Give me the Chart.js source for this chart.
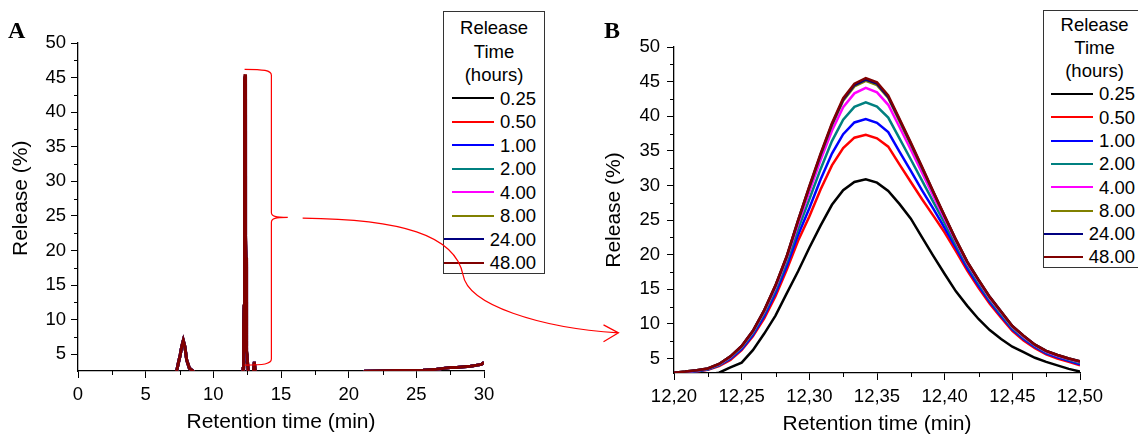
<!DOCTYPE html>
<html>
<head>
<meta charset="utf-8">
<script src="https://cdn.jsdelivr.net/npm/chart.js@4.4.0/dist/chart.umd.min.js"></script>
<style>
  body { margin: 0; background: #fff; }
  #page { position: relative; width: 1138px; height: 435px; overflow: hidden; background: #fff; }
  canvas { position: absolute; top: 0; }
  #chartA { left: 0; z-index: 1; }
  #chartB { left: 560px; z-index: 1; }
  #overlay { left: 0; z-index: 3; pointer-events: none; }
  .panel { position: absolute; top: 18px; font: bold 24px "Liberation Serif", "Times New Roman", serif; line-height: 24px; z-index: 2; }
  .legend { position: absolute; box-sizing: border-box; border: 1px solid #333; background: #fff; z-index: 2;
            font: 18.5px "Liberation Sans", Arial, sans-serif; color: #000; }
  .legend .ttl { text-align: center; }
  .legend .row { display: flex; justify-content: flex-end; align-items: center; }
  .legend .sw { width: 42px; height: 0; border-top: 2px solid; margin-right: 6px; }
  #legA { left: 443px; top: 11px; width: 102px; height: 263px; padding-top: 4px; line-height: 23.5px; }
  #legA .row { padding-right: 8px; }
  #legB { left: 1043px; top: 9.5px; width: 103px; height: 258px; padding-top: 2px; line-height: 23.3px; }
  #legB .row { padding-right: 10px; }
</style>
</head>
<body>
<div id="page">
  <canvas id="chartA" width="560" height="435"></canvas>
  <canvas id="chartB" width="578" height="435"></canvas>
  <div class="panel" style="left:8px">A</div>
  <div class="panel" style="left:604px">B</div>
  <div class="legend" id="legA"></div>
  <div class="legend" id="legB"></div>
  <canvas id="overlay" width="1138" height="435"></canvas>
</div>
<script>
// release time of each curve (hours) and its colour
const seriesLabels = ['0.25', '0.50', '1.00', '2.00', '4.00', '8.00', '24.00', '48.00'];
const seriesColors = ['#000000', '#ff0000', '#0000ff', '#008080', '#ff00ff', '#808000', '#000080', '#800000'];
const legendTitle = ['Release', 'Time', '(hours)'];

// panel B: main peak, retention time (min)
const retentionB = [12.2000, 12.2083, 12.2167, 12.2250, 12.2333, 12.2417, 12.2500, 12.2583, 12.2667, 12.2750,
  12.2833, 12.2917, 12.3000, 12.3083, 12.3167, 12.3250, 12.3333, 12.3417, 12.3500, 12.3583,
  12.3667, 12.3750, 12.3833, 12.3917, 12.4000, 12.4083, 12.4167, 12.4250, 12.4333, 12.4417,
  12.4500, 12.4583, 12.4667, 12.4750, 12.4833, 12.4917, 12.5000];

// release (%) for each release time
const rel025 = [2.4, 2.5, 2.6, 2.7, 2.95, 3.7, 4.4, 6.2, 8.6, 11.2, 14.4, 17.6, 21.0, 24.2, 27.2, 29.3, 30.5, 30.9, 30.4, 29.2,
  27.3, 25.2, 22.5, 19.8, 17.2, 14.7, 12.6, 10.7, 9.1, 7.8, 6.7, 5.9, 5.1, 4.5, 4.0, 3.5, 3.1];
const rel050 = [2.85, 2.95, 3.1, 3.35, 3.9, 4.8, 6.2, 8.2, 10.8, 14.0, 17.8, 22.0, 25.5, 29.4, 32.9, 35.4, 36.9, 37.3, 36.8, 35.6,
  33.0, 30.5, 28.0, 25.6, 23.2, 20.5, 17.7, 15.2, 12.9, 10.9, 9.0, 7.6, 6.5, 5.6, 5.0, 4.5, 4.0];
const rel100 = [2.9, 3.0, 3.15, 3.4, 4.0, 4.95, 6.35, 8.4, 11.15, 14.45, 18.35, 22.85, 26.7, 30.85, 34.6, 37.4, 39.1, 39.6, 39.05, 37.7,
  34.85, 32.1, 29.3, 26.6, 23.85, 21.0, 18.05, 15.55, 13.2, 11.15, 9.2, 7.8, 6.65, 5.75, 5.15, 4.65, 4.15];
const rel200 = [2.9, 3.05, 3.2, 3.45, 4.05, 5.1, 6.55, 8.65, 11.5, 14.9, 18.95, 23.7, 28.0, 32.35, 36.4, 39.5, 41.35, 42.0, 41.4, 39.8,
  36.75, 33.75, 30.7, 27.6, 24.55, 21.45, 18.45, 15.9, 13.45, 11.4, 9.4, 8.0, 6.8, 5.9, 5.3, 4.8, 4.35];
const rel400 = [2.95, 3.05, 3.25, 3.5, 4.15, 5.2, 6.7, 8.85, 11.8, 15.3, 19.45, 24.45, 29.1, 33.65, 37.9, 41.3, 43.3, 44.1, 43.45, 41.65,
  38.4, 35.15, 31.85, 28.45, 25.15, 21.9, 18.75, 16.2, 13.7, 11.65, 9.55, 8.15, 6.9, 6.0, 5.4, 4.9, 4.5];
const rel800 = [2.95, 3.1, 3.3, 3.55, 4.2, 5.3, 6.75, 8.95, 11.95, 15.5, 19.7, 24.85, 29.7, 34.35, 38.7, 42.25, 44.3, 45.1, 44.5, 42.65,
  39.25, 35.9, 32.45, 28.95, 25.5, 22.1, 18.95, 16.35, 13.85, 11.75, 9.65, 8.25, 7.0, 6.1, 5.5, 5.0, 4.55];
const rel2400 = [2.95, 3.1, 3.3, 3.55, 4.2, 5.3, 6.8, 9.0, 12.0, 15.55, 19.75, 24.95, 29.8, 34.45, 38.85, 42.4, 44.5, 45.3, 44.7, 42.8,
  39.45, 36.05, 32.6, 29.0, 25.55, 22.15, 18.95, 16.35, 13.9, 11.8, 9.7, 8.3, 7.0, 6.1, 5.5, 5.0, 4.6];
const rel4800 = [2.95, 3.1, 3.3, 3.55, 4.2, 5.3, 6.8, 9.0, 12.0, 15.6, 19.8, 25.0, 29.9, 34.6, 39.0, 42.6, 44.7, 45.5, 44.9, 43.0,
  39.6, 36.2, 32.7, 29.1, 25.6, 22.2, 19.0, 16.4, 13.9, 11.8, 9.7, 8.3, 7.0, 6.1, 5.5, 5.0, 4.6];
const releaseB = [rel025, rel050, rel100, rel200, rel400, rel800, rel2400, rel4800];

// panel A: rest of the chromatogram (shared by all curves)
const earlyTime = [0, 7.0, 7.29, 7.41, 7.55, 7.66, 7.78, 7.9, 8.03, 8.23, 8.5, 9.0, 12.0, 12.19];
const earlyRelease = [1.5, 1.5, 2.6, 3.7, 4.9, 6.1, 7.0, 6.1, 4.2, 3.0, 2.6, 1.5, 1.5, 2.0];
const lateTime = [12.6, 12.95, 13.03, 13.11, 13.3, 21.0, 21.2, 22.5, 23.5, 24.5, 25.5, 26.5, 27.0, 27.5, 28.0, 28.5, 29.0, 29.5, 29.8, 30.0];
const lateRelease = [2.2, 2.3, 3.9, 2.3, 2.0, 2.0, 2.55, 2.62, 2.66, 2.68, 2.72, 2.85, 2.98, 3.1, 3.1, 3.2, 3.3, 3.45, 3.55, 3.85];

// red zoom annotation anchors (panel A units, then panel B units for the arrow head)
const braceTime = [12.31, 14.29, 15.5];
const braceRelease = [46.2, 24.8, 3.45];
const arrowStart = [16.6, 24.7];
const arrowBend = [28.45, 16.5];
const arrowEnd = [12.159, 8.7];

Chart.defaults.font.family = '"Liberation Sans", Arial, sans-serif';
Chart.defaults.color = '#000';

const pts = (xs, ys) => xs.map((x, i) => ({ x: x, y: ys[i] }));

const minorTicks = {
  id: 'minorTicks',
  afterDraw(chart) {
    const ctx = chart.ctx;
    ctx.save();
    ctx.strokeStyle = '#000';
    ctx.lineWidth = 1;
    ['x', 'y'].forEach(id => {
      const s = chart.scales[id];
      const vals = s.ticks.map(t => t.value);
      for (let i = 0; i < vals.length - 1; i++) {
        const p = Math.round(s.getPixelForValue((vals[i] + vals[i + 1]) / 2)) + 0.5;
        ctx.beginPath();
        if (id === 'x') { ctx.moveTo(p, s.top); ctx.lineTo(p, s.top + 4); }
        else { ctx.moveTo(s.right, p); ctx.lineTo(s.right - 4, p); }
        ctx.stroke();
      }
    });
    ctx.restore();
  }
};

function makeOptions(o) {
  return {
    responsive: false,
    animation: false,
    events: [],
    layout: { padding: { left: 0, right: o.padRight, top: o.padTop, bottom: 0 } },
    plugins: { legend: { display: false }, tooltip: { enabled: false } },
    elements: { point: { radius: 0 }, line: { tension: 0 } },
    scales: {
      x: {
        type: 'linear', min: o.xMin, max: o.xMax,
        afterFit: s => { s.height = o.xHeight; },
        ticks: { stepSize: o.xStep, autoSkip: false, maxRotation: 0, padding: 6,
                 font: { size: 18.5 }, color: '#000', callback: o.xFmt },
        grid: { drawOnChartArea: false, drawTicks: true, tickLength: 7, tickColor: '#000', color: '#000' },
        border: { display: true, color: '#000', width: 1.3 },
        title: { display: true, text: 'Retention time (min)', font: { size: 21 }, color: '#000',
                 padding: { top: 0, bottom: o.xTitlePad } }
      },
      y: {
        type: 'linear', min: o.yMin, max: 50,
        afterFit: s => { s.width = o.yWidth; },
        ticks: { stepSize: 5, includeBounds: false, padding: o.yTickPad, font: { size: 18.5 }, color: '#000' },
        grid: { drawOnChartArea: false, drawTicks: true, tickLength: 7, tickColor: '#000', color: '#000' },
        border: { display: true, color: '#000', width: 1.3 },
        title: { display: true, text: o.yTitle, font: { size: 21 }, color: '#000',
                 padding: { top: o.yTitlePad, bottom: 0 } }
      }
    }
  };
}

const datasetsA = releaseB.map((vals, i) => ({
  label: seriesLabels[i],
  data: pts(earlyTime, earlyRelease).concat(pts(retentionB, vals), pts(lateTime, lateRelease)),
  borderColor: seriesColors[i],
  borderWidth: 3,
  order: seriesLabels.length - i
}));

const datasetsB = releaseB.map((vals, i) => ({
  label: seriesLabels[i],
  data: pts(retentionB, vals),
  borderColor: seriesColors[i],
  borderWidth: 2.5,
  order: seriesLabels.length - i
}));

const chartA = new Chart(document.getElementById('chartA'), {
  type: 'line',
  data: { datasets: datasetsA },
  options: makeOptions({ xMin: 0, xMax: 30, xStep: 5, yMin: 2.6, padRight: 76, padTop: 43,
    xHeight: 64, yWidth: 78, yTickPad: 5, yTitlePad: 8.4, xTitlePad: 0,
    yTitle: '\u00a0\u00a0\u00a0Release (%)', xFmt: v => String(v) }),
  plugins: [minorTicks]
});

const chartB = new Chart(document.getElementById('chartB'), {
  type: 'line',
  data: { datasets: datasetsB },
  options: makeOptions({ xMin: 12.2, xMax: 12.5, xStep: 0.05, yMin: 2.9, padRight: 58, padTop: 47,
    xHeight: 62, yWidth: 114, yTickPad: 7, yTitlePad: 41.9, xTitlePad: -2,
    yTitle: 'Release (%)', xFmt: v => v.toFixed(2).replace('.', ',') }),
  plugins: [minorTicks]
});

// legends
function buildLegend(el) {
  legendTitle.forEach(t => {
    const d = document.createElement('div');
    d.className = 'ttl';
    d.textContent = t;
    el.appendChild(d);
  });
  seriesLabels.forEach((lab, i) => {
    const row = document.createElement('div');
    row.className = 'row';
    const sw = document.createElement('span');
    sw.className = 'sw';
    sw.style.borderTopColor = seriesColors[i];
    const tx = document.createElement('span');
    tx.textContent = lab;
    row.appendChild(sw);
    row.appendChild(tx);
    el.appendChild(row);
  });
}
buildLegend(document.getElementById('legA'));
buildLegend(document.getElementById('legB'));

// zoom annotation (brace on the A peak, arrow to panel B)
function drawAnnotation() {
  const ctx = document.getElementById('overlay').getContext('2d');
  const ax = chartA.scales.x, ay = chartA.scales.y;
  const bx = chartB.scales.x, by = chartB.scales.y;
  const px = v => ax.getPixelForValue(v), py = v => ay.getPixelForValue(v);
  const [xL, xS, xT] = braceTime.map(px);
  const [yTop, yTip, yBot] = braceRelease.map(py);
  ctx.strokeStyle = '#ff0000';
  ctx.lineWidth = 1.2;
  ctx.beginPath();
  ctx.moveTo(xL, yTop);
  ctx.bezierCurveTo(xS - 8, yTop, xS, yTop + 1, xS, yTop + 6);
  ctx.lineTo(xS, yTip - 5);
  ctx.bezierCurveTo(xS, yTip - 1, xS + 4, yTip, xT, yTip);
  ctx.bezierCurveTo(xS + 4, yTip, xS, yTip + 1, xS, yTip + 5);
  ctx.lineTo(xS, yBot - 6);
  ctx.bezierCurveTo(xS, yBot - 1, xS - 8, yBot, xL, yBot);
  ctx.stroke();

  const s = { x: px(arrowStart[0]), y: py(arrowStart[1]) };
  const m = { x: px(arrowBend[0]), y: py(arrowBend[1]) };
  const e = { x: 560 + bx.getPixelForValue(arrowEnd[0]), y: by.getPixelForValue(arrowEnd[1]) };
  ctx.beginPath();
  ctx.moveTo(s.x, s.y);
  ctx.bezierCurveTo(s.x + 98, s.y + 1, m.x - 8, m.y - 40, m.x, m.y);
  ctx.bezierCurveTo(m.x + 5, m.y + 30, e.x - 79, e.y - 5, e.x, e.y);
  ctx.moveTo(e.x - 15, e.y - 8);
  ctx.lineTo(e.x, e.y);
  ctx.lineTo(e.x - 15, e.y + 9);
  ctx.stroke();
}
drawAnnotation();
</script>
</body>
</html>
